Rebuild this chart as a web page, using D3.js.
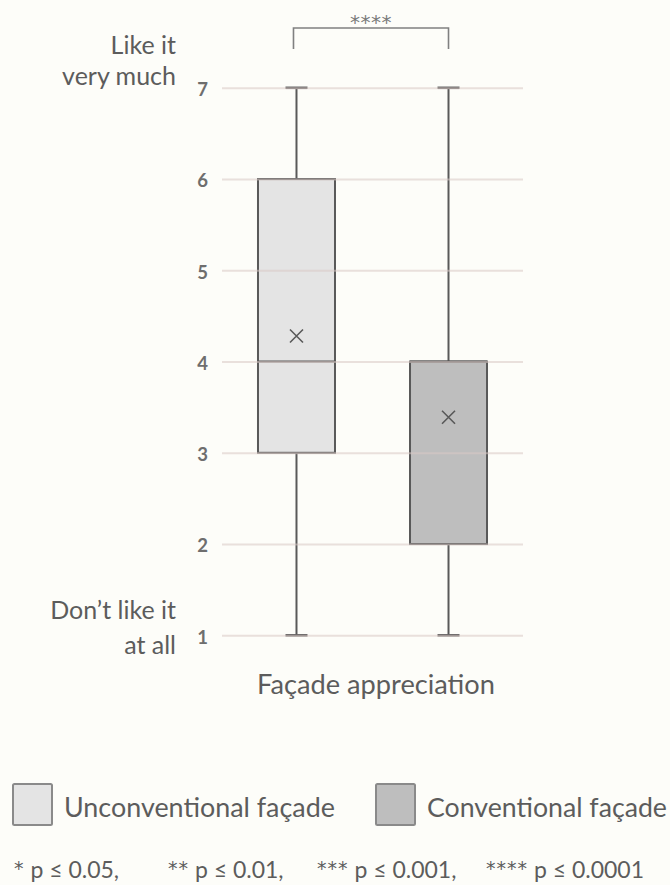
<!DOCTYPE html>
<html>
<head>
<meta charset="utf-8">
<script src="https://cdn.jsdelivr.net/npm/d3@7/dist/d3.min.js"></script>
<style>
  html, body { margin: 0; padding: 0; background: #fdfdf9; }
  svg { display: block; font-family: Lato, "Open Sans", sans-serif; }
</style>
</head>
<body>
<svg id="chart" width="670" height="885"></svg>
<script>
// ---- data ----
const categories = ["Unconventional façade", "Conventional façade"];
const mins    = [1, 1];
const q1s     = [3, 2];
const medians = [4, 4];
const q3s     = [6, 4];
const maxs    = [7, 7];
const means   = [4.28, 3.39];
const yTicks  = [1, 2, 3, 4, 5, 6, 7];
const topLabel    = ["Like it", "very much"];
const bottomLabel = ["Don\u2019t like it", "at all"];
const xTitle = "Façade appreciation";
const significance = "****";
const footnotes = ["* p \u2264 0.05,", "** p \u2264 0.01,", "*** p \u2264 0.001,", "**** p \u2264 0.0001"];

// ---- styles ----
const fills = ["#e4e4e4", "#bebebe"];
const ink = "#595959";
const textCol = "#5c5c5c";

const svg = d3.select("#chart");
svg.append("rect").attr("width", 670).attr("height", 885).attr("fill", "#fdfdf9");

const y = d3.scaleLinear().domain([1, 7]).range([635.3, 87.8]);
const x = d3.scalePoint().domain(categories).range([222, 523]).padding(0.49);
const boxW = 77;
const cx = c => x(c);

function fitWidth(sel, w) {
  const node = sel.node();
  const fs = parseFloat(sel.attr("font-size"));
  const cur = node.getComputedTextLength();
  sel.attr("font-size", (fs * w / cur).toFixed(2));
  return sel;
}

// boxes
const g = svg.append("g");
categories.forEach((c, i) => {
  const X = cx(c);
  g.append("line").attr("x1", X).attr("x2", X).attr("y1", y(maxs[i])).attr("y2", y(q3s[i]))
    .attr("stroke", ink).attr("stroke-width", 2);
  g.append("line").attr("x1", X).attr("x2", X).attr("y1", y(q1s[i])).attr("y2", y(mins[i]))
    .attr("stroke", ink).attr("stroke-width", 2);
  [maxs[i], mins[i]].forEach(v => {
    g.append("line").attr("x1", X - 11).attr("x2", X + 11).attr("y1", y(v)).attr("y2", y(v))
      .attr("stroke", ink).attr("stroke-width", 2.5);
  });
  g.append("rect").attr("x", X - boxW / 2).attr("width", boxW)
    .attr("y", y(q3s[i])).attr("height", y(q1s[i]) - y(q3s[i]))
    .attr("fill", fills[i]).attr("stroke", ink).attr("stroke-width", 2);
  g.append("line").attr("x1", X - boxW / 2).attr("x2", X + boxW / 2)
    .attr("y1", y(medians[i])).attr("y2", y(medians[i]))
    .attr("stroke", ink).attr("stroke-width", 2);
  const m = y(means[i]), s = 6.5;
  g.append("path").attr("d", `M${X - s},${m - s}L${X + s},${m + s}M${X - s},${m + s}L${X + s},${m - s}`)
    .attr("stroke", ink).attr("stroke-width", 1.6).attr("fill", "none");
});

// gridlines (drawn over, semi-transparent)
const grid = svg.append("g").attr("transform", "translate(222,0)")
  .call(d3.axisRight(y).tickValues(yTicks).tickSize(301).tickFormat(""));
grid.select(".domain").remove();
grid.selectAll("line").attr("stroke", "#d8c9c4").attr("stroke-opacity", 0.55).attr("stroke-width", 2);

// tick labels
const ax = svg.append("g").attr("transform", "translate(208,0)")
  .call(d3.axisLeft(y).tickValues(yTicks).tickSize(0).tickPadding(0).tickFormat(d3.format("d")));
ax.select(".domain").remove();
ax.selectAll("text").attr("font-size", 18.5).attr("font-weight", "bold").attr("fill", "#6e6e6e")
  .attr("font-family", "Lato, sans-serif").attr("dy", "0.42em");

// end labels
topLabel.forEach((t, i) => {
  svg.append("text").attr("x", 176).attr("y", [54, 85][i]).attr("text-anchor", "end")
    .attr("font-size", 25).attr("fill", textCol).text(t);
});
bottomLabel.forEach((t, i) => {
  svg.append("text").attr("x", 176).attr("y", [619, 654][i]).attr("text-anchor", "end")
    .attr("font-size", 25).attr("fill", textCol).text(t);
});

// significance bracket
const b1 = cx(categories[0]) - 3, b2 = cx(categories[1]);
svg.append("path").attr("d", `M${b1},49V28H${b2}V49`).attr("fill", "none")
  .attr("stroke", "#808080").attr("stroke-width", 1.6);
svg.append("text").attr("x", (b1 + b2) / 2).attr("y", 29).attr("text-anchor", "middle")
  .attr("font-family", "DejaVu Sans, sans-serif")
  .attr("font-size", 20).attr("letter-spacing", 0.5).attr("fill", "#7a7a7a").text(significance);

// x title
const xt = svg.append("text").attr("x", 376).attr("y", 694).attr("text-anchor", "middle")
  .attr("font-size", 25).attr("fill", textCol).text(xTitle);
fitWidth(xt, 238);

// legend
const legX = [13, 376];
const legT = [64, 427];
const legW = [271, 240];
categories.forEach((c, i) => {
  svg.append("rect").attr("x", legX[i]).attr("y", 784).attr("width", 39).attr("height", 41)
    .attr("rx", 1.5).attr("fill", fills[i]).attr("stroke", "#8a8a8a").attr("stroke-width", 2);
  const t = svg.append("text").attr("x", legT[i]).attr("y", 817)
    .attr("font-size", 27).attr("fill", textCol).text(c);
  fitWidth(t, legW[i]);
});

// footnote
const fnX = [14, 168, 317, 486];
footnotes.forEach((f, i) => {
  const k = f.indexOf(" ");
  const t = svg.append("text").attr("x", fnX[i]).attr("y", 878)
    .attr("font-size", 23).attr("fill", textCol);
  t.append("tspan").attr("font-family", "DejaVu Sans, sans-serif").attr("font-size", 19)
    .attr("letter-spacing", 1).attr("dy", -3).text(f.slice(0, k));
  t.append("tspan").attr("dy", 3).text(f.slice(k));
});
</script>
</body>
</html>
